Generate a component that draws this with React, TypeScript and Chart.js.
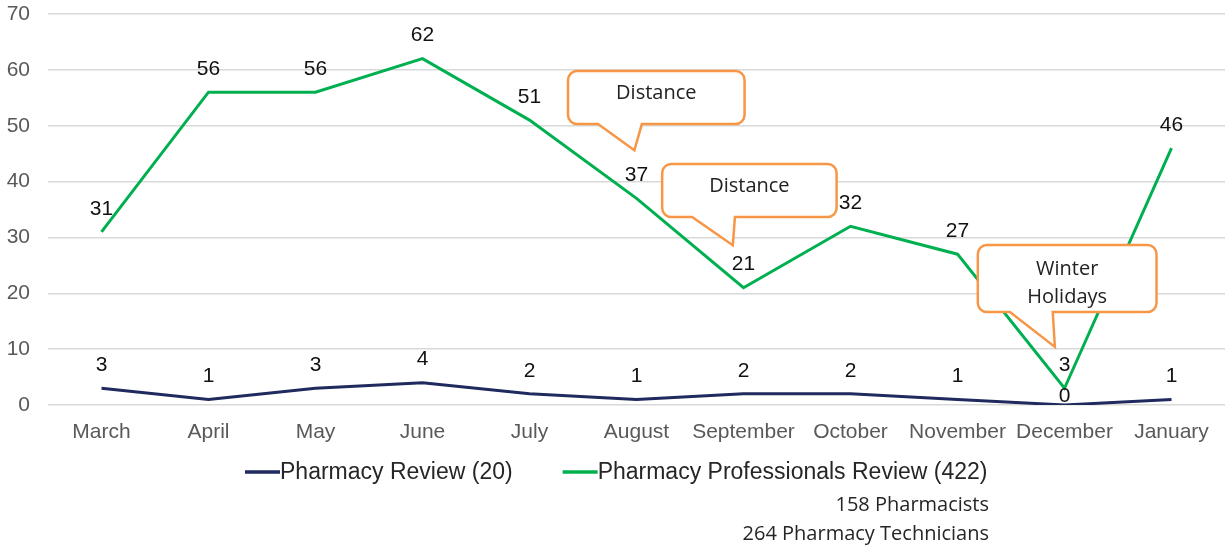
import React, { useEffect, useRef } from "react";
import { Chart, registerables } from "chart.js";

Chart.register(...registerables);

const categories = ["March", "April", "May", "June", "July", "August", "September", "October", "November", "December", "January"];
const pharmacyReview = [3, 1, 3, 4, 2, 1, 2, 2, 1, 0, 1];
const professionalsReview = [31, 56, 56, 62, 51, 37, 21, 32, 27, 3, 46];
const seriesNames = ["Pharmacy Review (20)", "Pharmacy Professionals Review (422)"];
const subNotes = ["158 Pharmacists", "264 Pharmacy Technicians"];
const yTicks = [0, 10, 20, 30, 40, 50, 60, 70];

// callouts in data units: box [x0, x1] (category index), [yTop, yBottom] (value), tail base x's and tip
const callouts = [
  { lines: ["Distance"], box: [4.36, 6.01, 59.8, 50.3], tail: [4.64, 5.05], tip: [4.98, 45.6] },
  { lines: ["Distance"], box: [5.24, 6.87, 43.15, 33.66], tail: [5.52, 5.92], tip: [5.9, 28.6] },
  { lines: ["Winter", "Holidays"], box: [8.19, 9.86, 28.64, 16.65], tail: [8.49, 8.89], tip: [8.91, 10.4] },
];

const BLUE = "#1F2A5E";
const GREEN = "#00B050";
const ORANGE = "#F79646";
const FONT = "'Liberation Sans', Arial, sans-serif";
const NOTE_FONT = "'Open Sans', sans-serif";

const overlayPlugin = {
  id: "overlay",
  afterDatasetsDraw(chart: any) {
    const { ctx, scales } = chart;
    const xs = scales.x;
    const ys = scales.y;
    const px = (i: number) => {
      const a = xs.getPixelForValue(Math.floor(i));
      const b = xs.getPixelForValue(Math.floor(i) + 1);
      return a + (b - a) * (i - Math.floor(i));
    };
    const py = (v: number) => ys.getPixelForValue(v);

    // data labels
    ctx.save();
    ctx.font = `21px ${FONT}`;
    ctx.fillStyle = "#111111";
    ctx.textAlign = "center";
    ctx.textBaseline = "middle";
    chart.data.datasets.forEach((ds: any, di: number) => {
      const meta = chart.getDatasetMeta(di);
      meta.data.forEach((pt: any, i: number) => {
        const v = ds.data[i];
        const off = v === 0 ? -9 : -23;
        ctx.fillText(String(v), pt.x, pt.y + off);
      });
    });
    ctx.restore();

    // callouts
    callouts.forEach((c) => {
      const x0 = px(c.box[0]);
      const x1 = px(c.box[1]);
      const y0 = py(c.box[2]);
      const y1 = py(c.box[3]);
      const t0 = px(c.tail[0]);
      const t1 = px(c.tail[1]);
      const tx = px(c.tip[0]);
      const ty = py(c.tip[1]);
      const r = 9;
      ctx.save();
      ctx.beginPath();
      ctx.moveTo(x0 + r, y0);
      ctx.lineTo(x1 - r, y0);
      ctx.arcTo(x1, y0, x1, y0 + r, r);
      ctx.lineTo(x1, y1 - r);
      ctx.arcTo(x1, y1, x1 - r, y1, r);
      ctx.lineTo(t1, y1);
      ctx.lineTo(tx, ty);
      ctx.lineTo(t0, y1);
      ctx.lineTo(x0 + r, y1);
      ctx.arcTo(x0, y1, x0, y1 - r, r);
      ctx.lineTo(x0, y0 + r);
      ctx.arcTo(x0, y0, x0 + r, y0, r);
      ctx.closePath();
      ctx.fillStyle = "#ffffff";
      ctx.fill();
      ctx.lineWidth = 2.5;
      ctx.strokeStyle = ORANGE;
      ctx.lineJoin = "miter";
      ctx.stroke();
      ctx.fillStyle = "#222222";
      ctx.font = `20px ${NOTE_FONT}`;
      ctx.textAlign = "center";
      ctx.textBaseline = "middle";
      const cx = (x0 + x1) / 2;
      const lh = 28;
      const startY = y0 + (c.lines.length > 1 ? 24 : 22);
      c.lines.forEach((ln, k) => ctx.fillText(ln, cx, startY + k * lh));
      ctx.restore();
    });
  },
  afterDraw(chart: any) {
    const { ctx } = chart;
    ctx.save();
    ctx.font = `23px ${FONT}`;
    const w1 = ctx.measureText(seriesNames[0]).width;
    const w2 = ctx.measureText(seriesNames[1]).width;
    const lineW = 35;
    const gap = 50;
    let x = 245;
    const y = 472;
    const colors = [BLUE, GREEN];
    ctx.textBaseline = "middle";
    ctx.textAlign = "left";
    [w1, w2].forEach((w, k) => {
      ctx.strokeStyle = colors[k];
      ctx.lineWidth = 3.5;
      ctx.beginPath();
      ctx.moveTo(x, y);
      ctx.lineTo(x + lineW, y);
      ctx.stroke();
      ctx.fillStyle = "#262626";
      ctx.fillText(seriesNames[k], x + lineW, y + 1);
      x = x + lineW + w + gap;
    });
    ctx.font = `20px ${NOTE_FONT}`;
    ctx.textAlign = "right";
    ctx.fillStyle = "#262626";
    subNotes.forEach((s, k) => ctx.fillText(s, 989, 505 + k * 29));
    ctx.restore();
  },
};

export default function App() {
  const ref = useRef<HTMLCanvasElement | null>(null);
  useEffect(() => {
    if (!ref.current) return;
    const chart = new Chart(ref.current, {
      type: "line",
      data: {
        labels: categories,
        datasets: [
          { label: seriesNames[0], data: pharmacyReview, borderColor: BLUE, backgroundColor: BLUE, borderWidth: 3, pointRadius: 0, tension: 0 },
          { label: seriesNames[1], data: professionalsReview, borderColor: GREEN, backgroundColor: GREEN, borderWidth: 3, pointRadius: 0, tension: 0 },
        ],
      },
      options: {
        responsive: false,
        animation: false,
        layout: { padding: { top: 14, right: 0, left: 0, bottom: 0 } },
        plugins: { legend: { display: false }, tooltip: { enabled: false } },
        scales: {
          x: {
            offset: true,
            grid: { display: false },
            border: { display: false },
            ticks: { color: "#595959", font: { family: FONT, size: 21 }, padding: 7, maxRotation: 0, autoSkip: false },
            afterFit: (s: any) => { s.height = 141; s.paddingLeft = 0; s.paddingRight = 0; },
          },
          y: {
            min: 0,
            max: 70,
            afterBuildTicks: (s: any) => { s.ticks = yTicks.map((v) => ({ value: v })); },
            grid: { color: "#D9D9D9", lineWidth: 1.5, drawTicks: false },
            border: { display: false },
            ticks: { color: "#595959", font: { family: FONT, size: 21 }, padding: 18 },
            afterFit: (s: any) => { s.width = 48; s.paddingTop = 0; s.paddingBottom = 0; },
          },
        },
      },
      plugins: [overlayPlugin],
    });
    return () => chart.destroy();
  }, []);
  return (
    <div style={{ position: "absolute", left: 0, top: 0, width: 1225, height: 546, background: "#fff" }}>
      <canvas ref={ref} width={1225} height={546} />
    </div>
  );
}
